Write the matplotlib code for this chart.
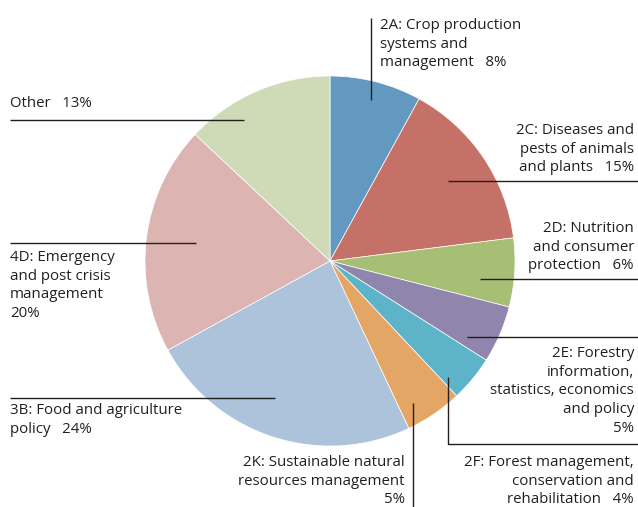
import matplotlib
matplotlib.use("Agg")
import matplotlib.pyplot as plt

categories = ["2A", "2C", "2D", "2E", "2F", "2K", "3B", "4D", "Other"]
values = [8, 15, 6, 5, 4, 5, 24, 20, 13]
labels = [
    "2A: Crop production\nsystems and\nmanagement   8%",
    "2C: Diseases and\npests of animals\nand plants   15%",
    "2D: Nutrition\nand consumer\nprotection   6%",
    "2E: Forestry\ninformation,\nstatistics, economics\nand policy\n5%",
    "2F: Forest management,\nconservation and\nrehabilitation   4%",
    "2K: Sustainable natural\nresources management\n5%",
    "3B: Food and agriculture\npolicy   24%",
    "4D: Emergency\nand post crisis\nmanagement\n20%",
    "Other   13%",
]
colors = ["#6399c1", "#c67167", "#a7bf75", "#9085ad", "#5db3c8",
          "#e3a665", "#adc2db", "#dcb4b1", "#cfdab7"]

W, H = 638, 507
fig = plt.figure(figsize=(W / 100, H / 100), dpi=100)
ax = fig.add_axes([0, 0, 1, 1])

def Y(y):
    return H - y

cx, cy, r = 330, 261, 185
ax.pie(values, colors=colors, startangle=90, counterclock=False,
       center=(cx, Y(cy)), radius=r, frame=True,
       wedgeprops=dict(edgecolor="white", linewidth=0.5))
ax.set_xlim(0, W)
ax.set_ylim(0, H)
ax.set_aspect("equal")
ax.axis("off")

tc = "#231f20"
font = dict(family="Open Sans", fontsize=10.8, color=tc, linespacing=1.34)
lw = 1.0

def line(xs, ys):
    ax.plot(xs, [Y(v) for v in ys], color=tc, lw=lw, solid_capstyle="butt")

# 2A
line([371, 371], [18, 100])
ax.text(380, Y(18), labels[0], ha="left", va="top", **font)
# 2C
line([448, 638], [181, 181])
ax.text(634, Y(123), labels[1], ha="right", va="top", ma="right", **font)
# 2D
line([480, 638], [279, 279])
ax.text(634, Y(221), labels[2], ha="right", va="top", ma="right", **font)
# 2E
line([467, 638], [337, 337])
ax.text(634, Y(346), labels[3], ha="right", va="top", ma="right", **font)
# 2F
line([448, 448, 638], [377, 444, 444])
ax.text(634, Y(455), labels[4], ha="right", va="top", ma="right", **font)
# 2K
line([413, 413], [403, 507])
ax.text(405, Y(455), labels[5], ha="right", va="top", ma="right", **font)
# 3B
line([10, 275], [398, 398])
ax.text(10, Y(403), labels[6], ha="left", va="top", **font)
# 4D
line([10, 196], [243, 243])
ax.text(10, Y(250), labels[7], ha="left", va="top", **font)
# Other
line([10, 244], [120, 120])
ax.text(10, Y(96), labels[8], ha="left", va="top", **font)

fig.savefig("out.png", dpi=100)
